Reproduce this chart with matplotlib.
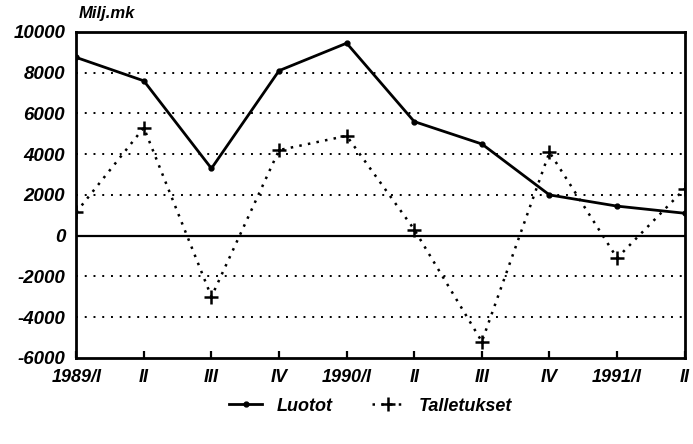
import matplotlib.pyplot as plt
from matplotlib.lines import Line2D

quarters = ['1989/I', 'II', 'III', 'IV', '1990/I', 'II', 'III', 'IV', '1991/I', 'II']
luotot = [8750, 7600, 3300, 8100, 9450, 5600, 4500, 2000, 1450, 1100]
talletukset = [1150, 5300, -3000, 4200, 4900, 300, -5200, 4100, -1100, 2300]

font = dict(family='Liberation Sans', weight='bold', style='italic')

fig = plt.figure(figsize=(6.93, 4.44), dpi=100)
ax = fig.add_axes([0.110, 0.194, 0.878, 0.734])

x = list(range(len(quarters)))
ax.plot(x, luotot, color='black', lw=2.0, marker='o', ms=3.5, zorder=3)
ax.plot(x, talletukset, color='black', lw=1.8, ls=(0, (1, 2.5)), marker='+', ms=10,
        mew=1.8, zorder=3)

ax.set_xlim(0, 9)
ax.set_ylim(-6000, 10000)
ax.set_yticks(range(-6000, 10001, 2000))
ax.set_xticks(x)
ax.set_xticklabels(quarters, fontsize=13, **font)
ax.set_yticklabels([str(v) for v in range(-6000, 10001, 2000)], fontsize=13.5, **font)

for v in range(-4000, 10001, 2000):
    if v != 0:
        ax.axhline(v, color='black', lw=1.4, ls=(0, (1, 3.5)), zorder=1)
ax.axhline(0, color='black', lw=1.6, zorder=2)

for s in ax.spines.values():
    s.set_linewidth(2.0)
ax.tick_params(axis='x', direction='in', length=5, width=1.6, pad=8)
ax.tick_params(axis='y', length=0, pad=8)

fig.text(0.113, 0.952, 'Milj.mk', fontsize=12, ha='left', va='bottom', **font)

handles = [
    Line2D([], [], color='black', lw=2.0, marker='o', ms=3.5),
    Line2D([], [], color='black', lw=1.8, ls=(0, (1, 2.5)), marker='+', ms=10, mew=1.8),
]
fig.legend(handles, ['Luotot', 'Talletukset'], loc='center', bbox_to_anchor=(0.535, 0.085),
           ncol=2, frameon=False, handlelength=1.8, columnspacing=2.2,
           prop=dict(size=13, **font))

fig.savefig('out.png', dpi=100)
